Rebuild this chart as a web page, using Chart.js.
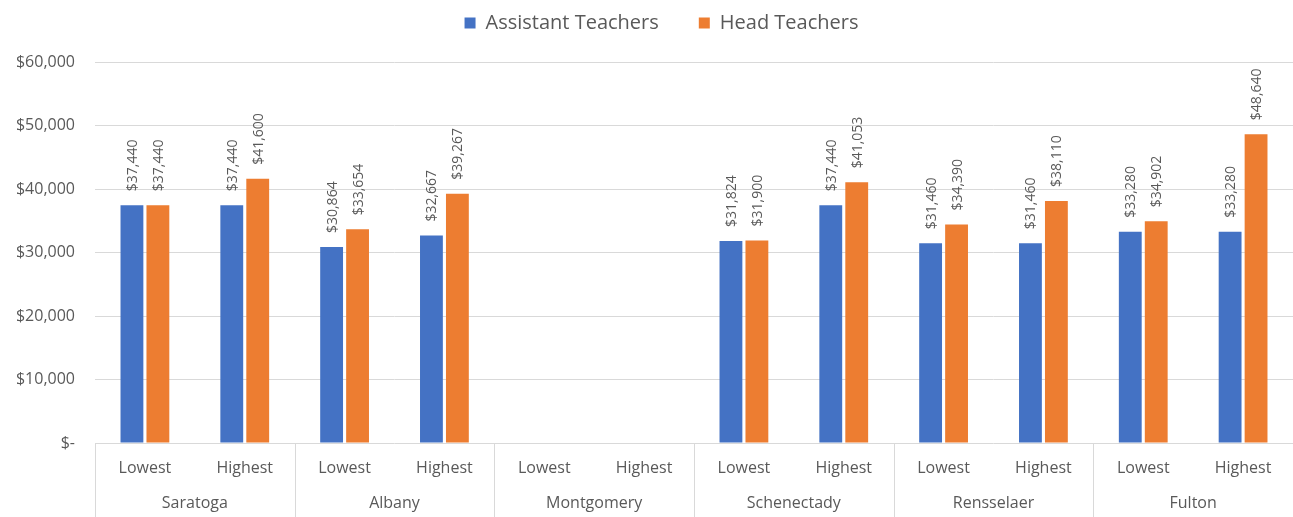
<!DOCTYPE html>
<html>
<head>
<meta charset="utf-8">
<script src="https://cdn.jsdelivr.net/npm/chart.js@4/dist/chart.umd.min.js"></script>
<style>
  html, body { margin: 0; padding: 0; background: #fff; }
  #wrap { width: 1293px; height: 517px; }
</style>
</head>
<body>
<div id="wrap"><canvas id="payChart"></canvas></div>
<script>
const levels = ['Lowest', 'Highest', 'Lowest', 'Highest', 'Lowest', 'Highest',
                'Lowest', 'Highest', 'Lowest', 'Highest', 'Lowest', 'Highest'];
const counties = ['Saratoga', 'Albany', 'Montgomery', 'Schenectady', 'Rensselaer', 'Fulton'];
const assistantPay = [37440, 37440, 30864, 32667, null, null, 31824, 37440, 31460, 31460, 33280, 33280];
const headPay = [37440, 41600, 33654, 39267, null, null, 31900, 41053, 34390, 38110, 34902, 48640];
const yTicks = [0, 10000, 20000, 30000, 40000, 50000, 60000];

const textGray = '#595959';
const gridGray = '#d9d9d9';
const legendTop = -27;

function money(v) {
    if (v === 0) return '$-';
    return '$' + v.toLocaleString('en-US');
}

// rotated value labels above each bar
const barLabels = {
    id: 'barLabels',
    afterDatasetsDraw(chart) {
        const ctx = chart.ctx;
        ctx.save();
        ctx.font = '14px "Open Sans"';
        ctx.fillStyle = textGray;
        ctx.textAlign = 'left';
        ctx.textBaseline = 'middle';
        chart.data.datasets.forEach((ds, i) => {
            chart.getDatasetMeta(i).data.forEach((bar, j) => {
                const v = ds.data[j];
                if (v == null) return;
                ctx.save();
                ctx.translate(bar.x + 1, bar.y - 14);
                ctx.rotate(-Math.PI / 2);
                ctx.fillText(money(v), 0, 0);
                ctx.restore();
            });
        });
        ctx.restore();
    }
};

// vertical separators between county groups under the axis
const groupLines = {
    id: 'groupLines',
    afterDraw(chart) {
        const x2 = chart.scales.x2;
        const ctx = chart.ctx;
        const step = (x2.right - x2.left) / counties.length;
        ctx.save();
        ctx.strokeStyle = gridGray;
        ctx.lineWidth = 1;
        for (let i = 0; i <= counties.length; i++) {
            const x = Math.round(x2.left + i * step) + 0.5;
            ctx.beginPath();
            ctx.moveTo(x, chart.chartArea.bottom);
            ctx.lineTo(x, chart.height);
            ctx.stroke();
        }
        ctx.restore();
    }
};

// fixed legend block height so the plot starts where the reference does,
// and nudge it a bit right like the original
const legendHeight = {
    id: 'legendHeight',
    beforeInit(chart) {
        const fit = chart.legend.fit;
        chart.legend.fit = function () {
            fit.call(this);
            this.height = 62 - legendTop;
        };
    },
    afterUpdate(chart) {
        chart.legend.left += 15;
        chart.legend.right += 15;
    }
};

const ctx = document.getElementById('payChart').getContext('2d');
new Chart(ctx, {
    type: 'bar',
    data: {
        labels: levels,
        datasets: [
            { label: 'Assistant Teachers', data: assistantPay, backgroundColor: '#4472C4',
              categoryPercentage: 0.52, barPercentage: 0.88 },
            { label: 'Head Teachers', data: headPay, backgroundColor: '#ED7D31',
              categoryPercentage: 0.52, barPercentage: 0.88 }
        ]
    },
    options: {
        responsive: true,
        maintainAspectRatio: false,
        animation: false,
        layout: { padding: { top: legendTop, left: 0, right: 0, bottom: 0 } },
        plugins: {
            legend: {
                position: 'top',
                labels: {
                    color: textGray,
                    font: { family: '"Open Sans"', size: 20 },
                    boxWidth: 11,
                    boxHeight: 11,
                    padding: 40
                }
            },
            tooltip: { enabled: false }
        },
        scales: {
            y: {
                min: 0,
                max: 60000,
                afterBuildTicks: s => { s.ticks = yTicks.map(v => ({ value: v })); },
                afterFit: s => { s.width = 95; },
                border: { display: false },
                grid: { color: gridGray, drawTicks: false },
                ticks: {
                    color: textGray,
                    font: { family: '"Open Sans"', size: 16 },
                    padding: 20,
                    callback: v => money(v)
                }
            },
            x: {
                offset: true,
                afterFit: s => { s.height = 40; },
                border: { display: false },
                grid: { display: false, drawTicks: false },
                ticks: {
                    color: textGray,
                    font: { family: '"Open Sans"', size: 16 },
                    padding: 16,
                    maxRotation: 0,
                    autoSkip: false
                }
            },
            x2: {
                type: 'category',
                labels: counties,
                position: 'bottom',
                offset: true,
                afterFit: s => { s.height = 34; },
                border: { display: false },
                grid: { display: false, drawTicks: false },
                ticks: {
                    color: textGray,
                    font: { family: '"Open Sans"', size: 16 },
                    padding: 11,
                    maxRotation: 0,
                    autoSkip: false
                }
            }
        }
    },
    plugins: [legendHeight, barLabels, groupLines]
});
</script>
</body>
</html>
